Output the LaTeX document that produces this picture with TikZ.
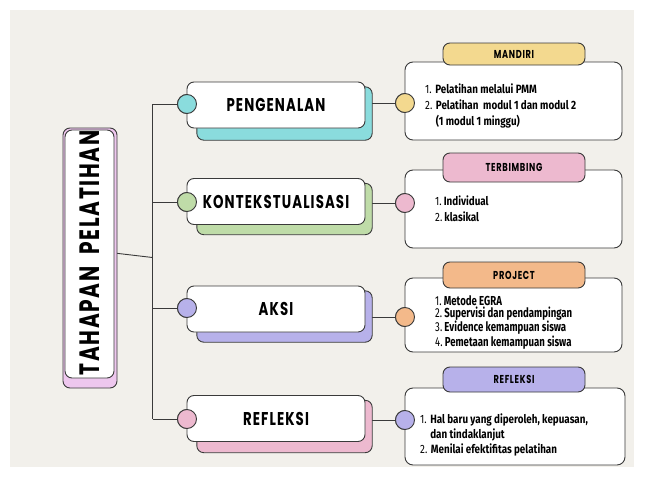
\documentclass[tikz,border=0pt]{standalone}
\usepackage{fontspec}
\setmainfont{Fira Sans}
\newfontfamily\headfont[FakeStretch=0.72,LetterSpace=6]{Poppins}
\newfontfamily\listfont[FakeStretch=0.82]{Fira Sans}
\newfontfamily\narrowfont[FakeStretch=0.74]{Fira Sans}
\definecolor{paper}{HTML}{F2F0EB}
\definecolor{edge}{HTML}{3A3A3A}
\definecolor{teal}{HTML}{8ADCDD}
\definecolor{leaf}{HTML}{BFDCA8}
\definecolor{lilac}{HTML}{B7B1EA}
\definecolor{rose}{HTML}{EDB9CF}
\definecolor{sand}{HTML}{F3D98F}
\definecolor{peach}{HTML}{F3B98A}
\definecolor{orchid}{HTML}{EEC7EE}
\tikzset{
  stage/.style={draw=edge, line width=0.9pt, fill=white, rounded corners=7pt, minimum width=178pt, minimum height=46pt, font=\headfont\bfseries\fontsize{18.5}{18.5}\selectfont},
  back/.style={draw=edge, line width=0.9pt, rounded corners=7pt},
  dot/.style={circle, draw=edge, line width=0.9pt, minimum size=19pt, inner sep=0pt},
  tag/.style={draw=edge, line width=0.9pt, rounded corners=7pt, minimum width=142pt, font=\headfont\bfseries\fontsize{11.5}{11.5}\selectfont},
  info/.style={draw=edge, line width=0.9pt, fill=white, rounded corners=8pt},
  items/.style={anchor=west, inner sep=0pt, align=left, font=\listfont\fontsize{12}{16}\selectfont},
  link/.style={draw=edge, line width=0.9pt}
}
\begin{document}
\begin{tikzpicture}[x=1pt, y=-1pt]
\useasboundingbox (0,0) rectangle (646,490);
\fill[paper] (10,10) rectangle (634,467);

\node (title) at (89.5,253) [minimum width=250pt, minimum height=49pt, rotate=90, inner sep=0pt] {};
\node (p1) at (276,105) [minimum width=178pt, minimum height=46pt] {};
\node (p2) at (276,201.5) [minimum width=178pt, minimum height=46pt] {};
\node (p3) at (276,309) [minimum width=178pt, minimum height=46pt] {};
\node (p4) at (276,418.5) [minimum width=178pt, minimum height=46pt] {};

\coordinate (root) at (152.5,257.5);
\coordinate (top) at (152.5,104);
\coordinate (bottom) at (152.5,419);

\node[dot, fill=teal] (l1) at (187,104) {};
\node[dot, fill=leaf] (l2) at (187,202) {};
\node[dot, fill=lilac] (l3) at (187,308) {};
\node[dot, fill=rose] (l4) at (187,419) {};
\node[dot, fill=sand] (r1) at (405,103) {};
\node[dot, fill=rose] (r2) at (405,203) {};
\node[dot, fill=peach] (r3) at (405,317) {};
\node[dot, fill=lilac] (r4) at (405,420) {};

\draw[link] (title.south) -- (root);
\draw[link] (top) -- (bottom);
\draw[link] (top) -- (l1);
\draw[link] (l2 -| root) -- (l2);
\draw[link] (l3 -| root) -- (l3);
\draw[link] (bottom) -- (l4);
\draw[link] (r1 -| p1.east) -- (r1);
\draw[link] (r2 -| p2.east) -- (r2);
\draw[link] (r3 -| p3.east) -- (r3);
\draw[link] (r4 -| p4.east) -- (r4);

\draw[back, fill=orchid] (63,128) rectangle (117,388);
\draw[back, fill=white] (65,130) rectangle (114,378);
\node[rotate=90, font=\headfont\bfseries\fontsize{28}{28}\selectfont] at (title) {TAHAPAN\ \ PELATIHAN};

\draw[back, fill=teal] ([xshift=10pt, yshift=-5pt]p1.north west) rectangle ([xshift=7pt, yshift=-12pt]p1.south east);
\draw[back, fill=leaf] ([xshift=10pt, yshift=-5pt]p2.north west) rectangle ([xshift=7pt, yshift=-10pt]p2.south east);
\draw[back, fill=lilac] ([xshift=10pt, yshift=-5pt]p3.north west) rectangle ([xshift=7pt, yshift=-10pt]p3.south east);
\draw[back, fill=rose] ([xshift=10pt, yshift=-5pt]p4.north west) rectangle ([xshift=7pt, yshift=-11pt]p4.south east);
\node[stage] at (p1) {PENGENALAN};
\node[stage] at (p2) {KONTEKSTUALISASI};
\node[stage] at (p3) {AKSI};
\node[stage] at (p4) {REFLEKSI};

\node[dot, fill=teal] at (l1) {};
\node[dot, fill=leaf] at (l2) {};
\node[dot, fill=lilac] at (l3) {};
\node[dot, fill=rose] at (l4) {};

\draw[info] (405,62) rectangle (622,140);
\draw[info] (405,170) rectangle (622,248);
\draw[info] (405,278) rectangle (622,352);
\draw[info] (405,388) rectangle (625,465);

\node[tag, fill=sand, minimum height=22pt] (t1) at (514,54) {MANDIRI};
\node[tag, fill=rose, minimum height=29pt] (t2) at (514,167.5) {TERBIMBING};
\node[tag, fill=peach, minimum height=26pt] (t3) at (514,275) {PROJECT};
\node[tag, fill=lilac, minimum height=25pt] (t4) at (514,379.5) {REFLEKSI};

\node[dot, fill=sand] at (r1) {};
\node[dot, fill=rose] at (r2) {};
\node[dot, fill=peach] at (r3) {};
\node[dot, fill=lilac] at (r4) {};

\node[items] (m1) at (425,106) {1. \textbf{Pelatihan melalui PMM}\\2. \textbf{Pelatihan\ \ modul 1 dan modul 2}\\\hphantom{2. }\textbf{(1 modul 1 minggu)}};
\node[items] (m2) at (435,208.5) {1.\,\textbf{Individual}\\2.\,\textbf{klasikal}};
\node[items, font=\narrowfont\fontsize{13}{12}\selectfont] (m3) at (435,322.5) {1.\,\textbf{Metode EGRA}\\2.\,\textbf{Supervisi dan pendampingan}\\3.\,\textbf{Evidence kemampuan siswa}\\4.\,\textbf{Pemetaan kemampuan siswa}};
\node[items, font=\listfont\fontsize{12}{15}\selectfont] (m4) at (420,435) {1. \textbf{Hal baru yang diperoleh, kepuasan,}\\\hphantom{1. }\textbf{dan tindaklanjut}\\2. \textbf{Menilai efektifitas pelatihan}};
\end{tikzpicture}
\end{document}
